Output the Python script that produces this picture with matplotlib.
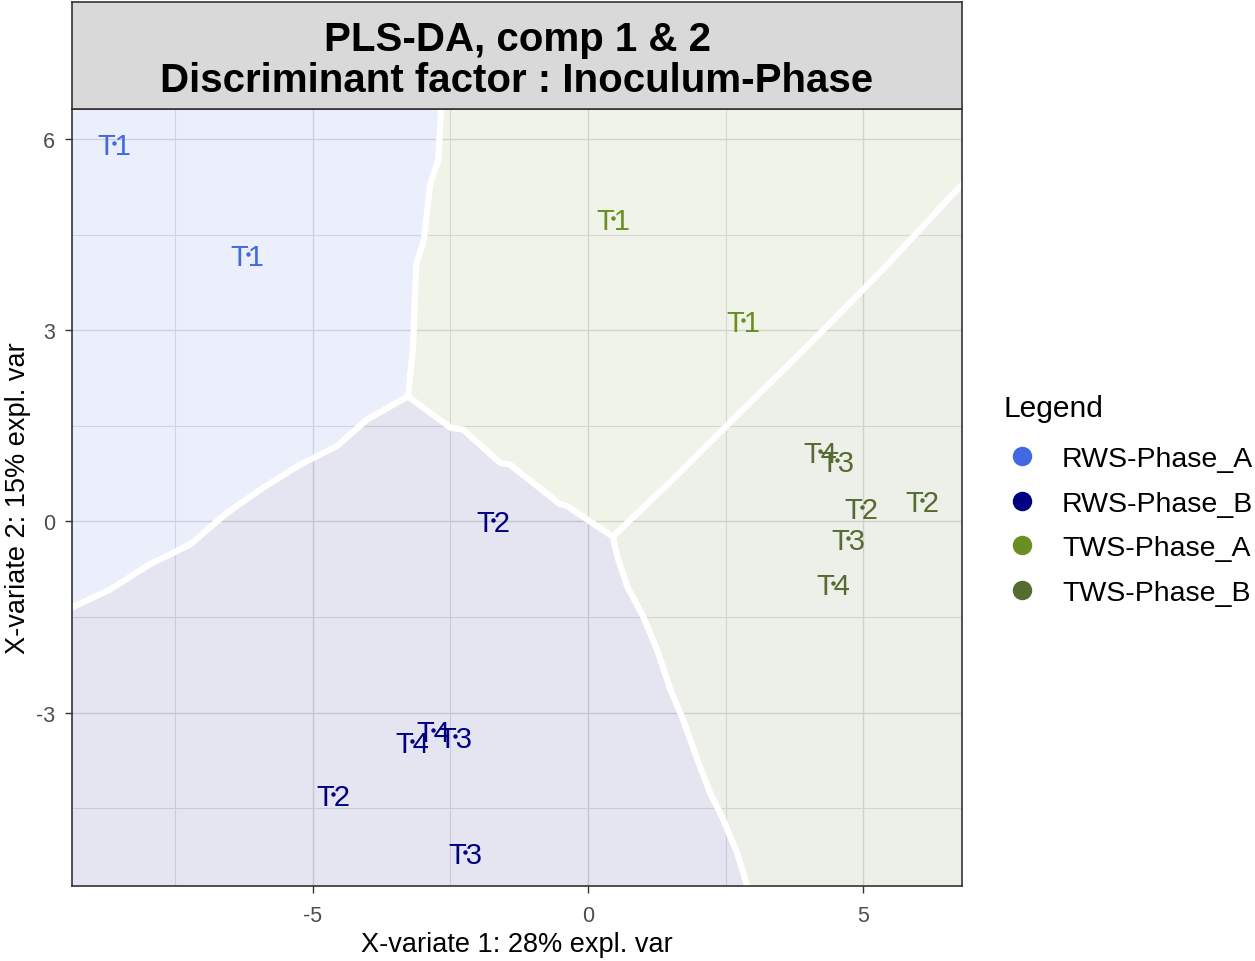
#PLS-DA sample plot with prediction background
import numpy as np
import matplotlib
matplotlib.use("Agg")
import matplotlib.pyplot as plt
from matplotlib.lines import Line2D
from matplotlib.patches import Polygon

plt.rcParams['font.family'] = ['Liberation Sans', 'DejaVu Sans']
plt.rcParams['axes.unicode_minus'] = False

classes = ["RWS-Phase_A", "RWS-Phase_B", "TWS-Phase_A", "TWS-Phase_B"]
cols = ["#4169E1", "#000080", "#6B8E23", "#556B2F"]

#Sample scores (comp 1, comp 2), class index and time label
sClass = [0, 0,
          1, 1, 1, 1, 1, 1,
          2, 2,
          3, 3, 3, 3, 3, 3]
sLab = ["T1", "T1",
        "T2", "T4", "T4", "T3", "T2", "T3",
        "T1", "T1",
        "T4", "T3", "T2", "T2", "T3", "T4"]
comp1 = [-8.60, -6.18,
         -1.72, -3.20, -2.81, -2.41, -4.63, -2.23,
         0.46, 2.81,
         4.21, 4.52, 4.97, 6.06, 4.72, 4.45]
comp2 = [5.94, 4.19,
         0.02, -3.44, -3.27, -3.37, -4.28, -5.19,
         4.76, 3.16,
         1.10, 0.97, 0.23, 0.33, -0.26, -0.97]

xLim = (-9.37, 6.79)
yLim = (-5.72, 6.47)

#Class boundaries of the max.dist prediction background
bTop_x = [-2.67, -2.72, -2.87, -2.98, -3.12, -3.18, -3.27]
bTop_y = [6.47, 5.67, 5.28, 4.42, 4.03, 2.70, 1.96]
bLeft_x = [-3.27, -4.01, -4.56, -5.23, -5.95, -6.59, -7.22, -7.95, -8.68, -9.37]
bLeft_y = [1.96, 1.60, 1.18, 0.89, 0.50, 0.11, -0.36, -0.67, -1.07, -1.35]
bDown_x = [-3.27, -2.50, -2.27, -1.60, -1.42, -0.51, -0.38, 0.45, 0.53, 0.71, 1.00,
           1.25, 1.49, 1.72, 1.98, 2.21, 2.45, 2.70, 2.89]
bDown_y = [1.96, 1.47, 1.44, 0.92, 0.89, 0.27, 0.24, -0.24, -0.55, -1.02, -1.49,
           -2.01, -2.63, -3.10, -3.73, -4.25, -4.67, -5.19, -5.72]
bDiag_x = [0.45, 1.54, 2.76, 3.97, 5.35, 6.66, 6.79]
bDiag_y = [-0.24, 0.66, 1.71, 2.74, 3.95, 5.17, 5.28]

fig = plt.figure(figsize=(12.55, 9.62), dpi=100)
Ax = fig.add_axes([0.0574, 0.078, 0.7092, 0.8077])

x0, x1 = xLim
y0, y1 = yLim
P = lambda xs, ys: np.column_stack([xs, ys])
jD = 7  # index of the junction on the lower boundary
regA = np.vstack([[[x0, y1]], P(bTop_x, bTop_y), P(bLeft_x, bLeft_y)[1:]])
regB = np.vstack([P(bLeft_x, bLeft_y), [[x0, y0]], P(bDown_x, bDown_y)[::-1]])
regC = np.vstack([P(bTop_x, bTop_y), P(bDown_x, bDown_y)[1:jD + 1],
                  P(bDiag_x, bDiag_y)[1:], [[x1, y1]]])
regD = np.vstack([P(bDiag_x, bDiag_y), [[x1, y0]], P(bDown_x, bDown_y)[:jD:-1]])
for reg, c in zip([regA, regB, regC, regD], cols):
    Ax.add_patch(Polygon(reg, closed=True, facecolor=c, alpha=0.1,
                         edgecolor='none', zorder=1))
for bx, by in [(bTop_x, bTop_y), (bLeft_x, bLeft_y), (bDown_x, bDown_y), (bDiag_x, bDiag_y)]:
    Ax.plot(bx, by, color='white', lw=4.5, solid_joinstyle='miter', zorder=2)

for i in range(len(comp1)):
    c = cols[sClass[i]]
    Ax.text(comp1[i], comp2[i], sLab[i], color=c, fontsize=21,
            ha='center', va='center_baseline', zorder=4)
    Ax.plot(comp1[i], comp2[i], 'o', color=c, ms=2.2, zorder=5)

Ax.set_xlim(xLim)
Ax.set_ylim(yLim)
Ax.set_xticks([-5, 0, 5])
Ax.set_yticks([-3, 0, 3, 6])
Ax.set_xticks([-7.5, -2.5, 2.5], minor=True)
Ax.set_yticks([-4.5, -1.5, 1.5, 4.5], minor=True)
Ax.set_axisbelow(True)
Ax.grid(which='major', color='#dcdcdc', lw=1.0)
Ax.grid(which='minor', color='#e2e2e2', lw=0.8)
Ax.tick_params(which='major', length=5, width=1, color='#333333',
               labelsize=15.5, labelcolor='#4d4d4d')
Ax.tick_params(axis='x', pad=9)
Ax.tick_params(axis='y', pad=7)
Ax.tick_params(which='minor', length=0)
for s in Ax.spines.values():
    s.set_color('#333333')
    s.set_linewidth(1.2)
Ax.set_xlabel("X-variate 1: 28% expl. var", fontsize=19.5)
Ax.set_ylabel("X-variate 2: 15% expl. var", fontsize=19.5)
Ax.xaxis.set_label_coords(0.5, -0.058)
Ax.yaxis.set_label_coords(-0.046, 0.5)

#Title strip
AxT = fig.add_axes([0.0574, 0.8857, 0.7092, 0.1112])
AxT.set_facecolor('#d9d9d9')
AxT.set_xticks([])
AxT.set_yticks([])
for s in AxT.spines.values():
    s.set_color('#333333')
    s.set_linewidth(1.2)
AxT.text(0.5, 0.46, "PLS-DA, comp 1 & 2\nDiscriminant factor : Inoculum-Phase",
         transform=AxT.transAxes, ha='center', va='center', fontsize=29,
         fontweight='bold', linespacing=1.1)

#Legend
fig.text(1003 / 1255, 1 - 409 / 962, "Legend", fontsize=21.5, ha='left', va='center')
hdl = [Line2D([], [], ls='none', marker='o', ms=13, color=c) for c in cols]
leg = Ax.legend(hdl, classes, loc='upper left',
                bbox_to_anchor=(1005 / 1255, 1 - 447 / 962), bbox_transform=fig.transFigure,
                frameon=False, fontsize=20.5, handlelength=1.2,
                handletextpad=0.8, labelspacing=0.65, borderaxespad=0, borderpad=0)

fig.savefig("out.png", dpi=100)
